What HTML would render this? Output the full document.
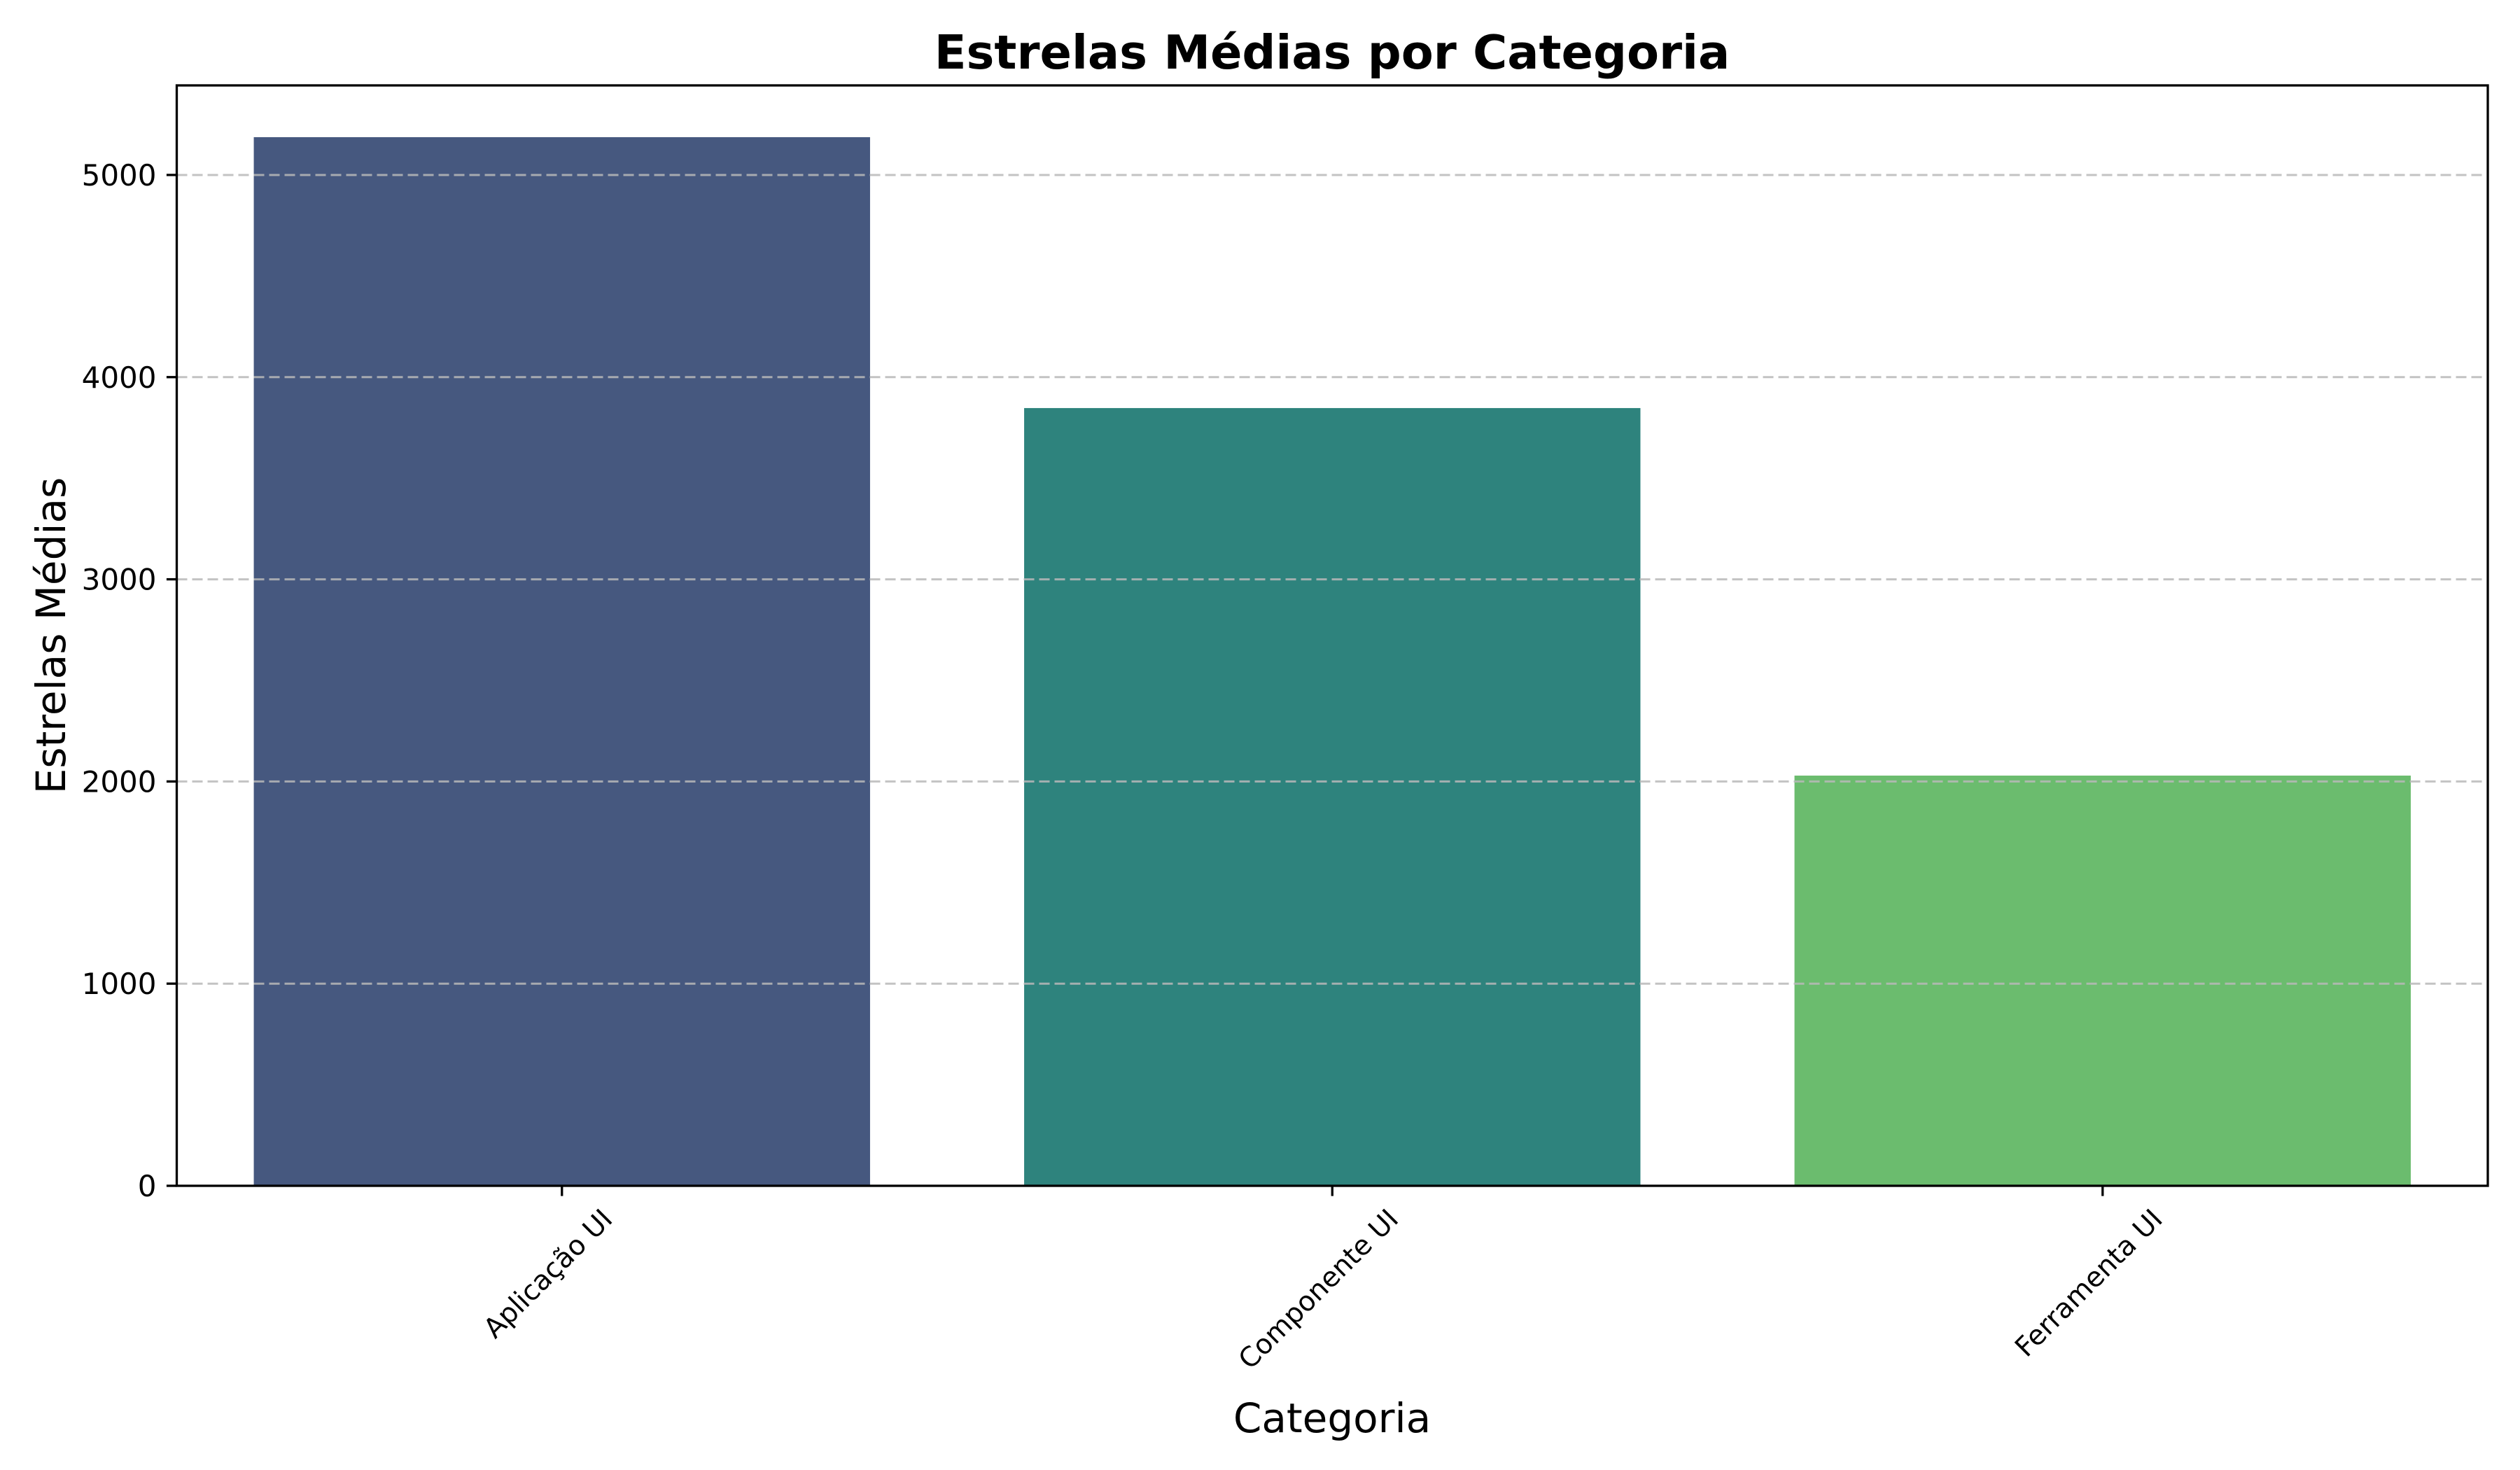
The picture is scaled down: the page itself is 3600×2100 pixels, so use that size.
<!DOCTYPE html>
<html><head><meta charset="utf-8"><style>
html,body{margin:0;padding:0;background:#fff}
svg{display:block;font-family:"DejaVu Sans","Liberation Sans",sans-serif}
</style></head><body>
<svg id="chart" width="3600" height="2100" viewBox="0 0 3600 2100" xmlns="http://www.w3.org/2000/svg">
<rect width="3600" height="2100" fill="#fff"/>
<text x="1903" y="98" text-anchor="middle" font-size="67" font-weight="bold">Estrelas Médias por Categoria</text>
<g id="bars"></g>
<g id="ygrid"></g>
<g id="yticks"></g>
<g id="xticks"></g>
<rect x="252.5" y="122" width="3301.5" height="1572" fill="none" stroke="#000" stroke-width="3.3"/>
<text x="1903" y="2046" text-anchor="middle" font-size="58">Categoria</text>
<text transform="translate(93,908) rotate(-90)" text-anchor="middle" font-size="58">Estrelas Médias</text>
</svg>
<script>
const categories = ["Aplicação UI", "Componente UI", "Ferramenta UI"];
const values = [5187, 3847, 2029];
const colors = ["#46587f", "#2e837d", "#6bbc6e"];
const yTicks = [0, 1000, 2000, 3000, 4000, 5000];

const NS = "http://www.w3.org/2000/svg";
const L = 252.5, R = 3554, T = 122, B = 1694;
const yMax = 5443;
function y(v){ return B - v / yMax * (B - T); }
function xc(i){ return L + (i + 0.5) * (R - L) / categories.length; }
const band = (R - L) / categories.length;

const bars = document.getElementById('bars');
values.forEach((v, i) => {
  const r = document.createElementNS(NS, 'rect');
  r.setAttribute('x', xc(i) - band * 0.4);
  r.setAttribute('width', band * 0.8);
  r.setAttribute('y', y(v));
  r.setAttribute('height', B - y(v));
  r.setAttribute('fill', colors[i]);
  
  
  bars.appendChild(r);
});

const g = document.getElementById('ygrid');
const yt = document.getElementById('yticks');
yTicks.forEach(t => {
  const yy = y(t);
  const ln = document.createElementNS(NS, 'line');
  ln.setAttribute('x1', L); ln.setAttribute('x2', R);
  ln.setAttribute('y1', yy); ln.setAttribute('y2', yy);
  ln.setAttribute('stroke', '#b8b8b8');
  ln.setAttribute('stroke-opacity', '0.85');
  ln.setAttribute('stroke-width', '3');
  ln.setAttribute('stroke-dasharray', '15 7');
  
  
  g.appendChild(ln);
  const tk = document.createElementNS(NS, 'line');
  tk.setAttribute('x1', L - 14.6); tk.setAttribute('x2', L);
  tk.setAttribute('y1', yy); tk.setAttribute('y2', yy);
  tk.setAttribute('stroke', '#000'); tk.setAttribute('stroke-width', '3.3');
  
  
  yt.appendChild(tk);
  const tx = document.createElementNS(NS, 'text');
  tx.setAttribute('x', L - 29); tx.setAttribute('y', yy + 15);
  tx.setAttribute('text-anchor', 'end');
  tx.setAttribute('font-size', '42');
  tx.textContent = t;
  
  
  yt.appendChild(tx);
});

const xt = document.getElementById('xticks');
categories.forEach((c, i) => {
  const x = xc(i);
  const tk = document.createElementNS(NS, 'line');
  tk.setAttribute('x1', x); tk.setAttribute('x2', x);
  tk.setAttribute('y1', B); tk.setAttribute('y2', B + 14.6);
  tk.setAttribute('stroke', '#000'); tk.setAttribute('stroke-width', '3.3');
  
  
  xt.appendChild(tk);
  const tx = document.createElementNS(NS, 'text');
  tx.setAttribute('font-size', '39');
  tx.setAttribute('text-anchor', 'end');
  tx.textContent = c;
  
  
  xt.appendChild(tx);
  const len = tx.getComputedTextLength();
  const h = 39 * 0.76;
  const c45 = Math.SQRT1_2;
  const bw = len * c45 + h * c45;
  const topY = B + 29;
  const ex = x + bw / 2 - h * c45;
  const ey = topY + h * c45;
  tx.setAttribute('transform', 'translate(' + ex + ',' + ey + ') rotate(-45)');
});
</script>
</body></html>
